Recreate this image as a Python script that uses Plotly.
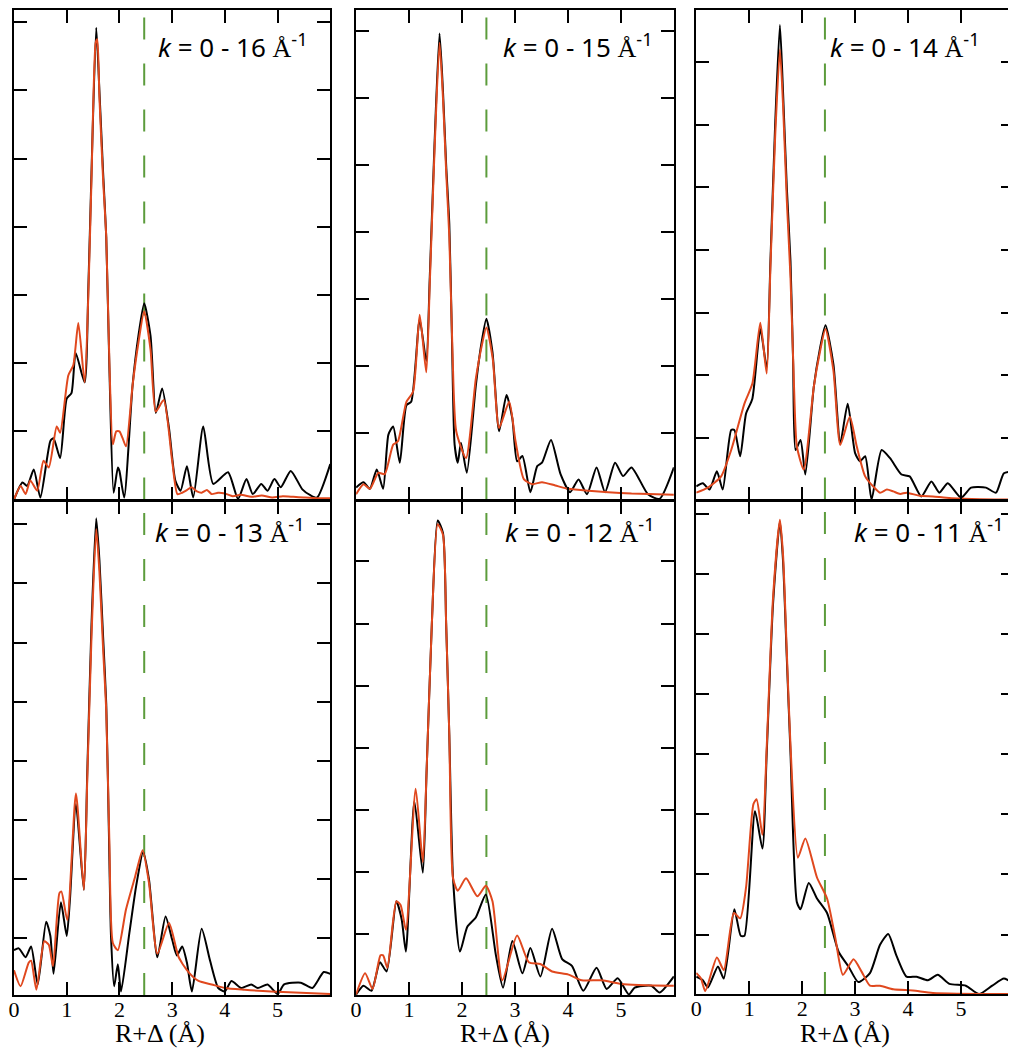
import plotly.graph_objects as go
from plotly.subplots import make_subplots

# k-range labels for the six panels
k_max = [16, 15, 14, 13, 12, 11]

# marker line position (R+delta, Angstrom) for each panel
r_mark = [2.47, 2.46, 2.43, 2.47, 2.46, 2.43]

# |chi(R)| in tick units, black = data, orange = fit
r_exp_16 = [0, 0.16, 0.25, 0.375, 0.5, 0.69, 0.75, 0.875, 1.0, 1.09, 1.17, 1.34, 1.41, 1.47, 1.56, 1.62, 1.69, 1.75, 1.81, 1.89, 1.97, 2.0, 2.09, 2.25, 2.36, 2.47, 2.59, 2.69, 2.81, 2.94, 3.06, 3.16, 3.28, 3.4, 3.59, 3.78, 4.06, 4.25, 4.41, 4.53, 4.69, 4.81, 4.94, 5.06, 5.25, 5.47, 5.63, 5.75, 6.0]
chi_exp_16 = [0, 0.25, 0.2, 0.44, 0.03, 0.86, 0.9, 0.61, 1.48, 1.56, 2.15, 1.72, 3.1, 4.8, 6.92, 6.0, 4.8, 3.85, 1.92, 0.1, 0.47, 0.42, 0.03, 1.68, 2.4, 2.88, 2.4, 1.27, 1.63, 1.05, 0.28, 0.13, 0.49, 0.03, 1.07, 0.23, 0.4, 0.01, 0.3, 0.08, 0.23, 0.13, 0.3, 0.18, 0.42, 0.15, 0.06, 0.03, 0.52]
r_fit_16 = [0, 0.125, 0.22, 0.31, 0.44, 0.56, 0.66, 0.81, 0.875, 1.03, 1.125, 1.22, 1.34, 1.41, 1.47, 1.55, 1.58, 1.62, 1.69, 1.75, 1.81, 1.875, 1.94, 2.0, 2.06, 2.125, 2.25, 2.36, 2.47, 2.59, 2.69, 2.84, 3.0, 3.1, 3.19, 3.28, 3.37, 3.47, 3.56, 3.66, 3.75, 3.87, 4.0, 4.15, 4.3, 4.5, 4.7, 4.9, 5.1, 5.3, 5.5, 5.75, 6.0]
chi_fit_16 = [0, 0.2, 0.08, 0.28, 0.13, 0.57, 0.47, 1.07, 0.98, 1.82, 1.97, 2.59, 1.72, 3.0, 4.7, 6.7, 6.75, 5.9, 4.7, 3.85, 2.0, 0.81, 1.0, 1.0, 0.9, 0.78, 1.68, 2.3, 2.76, 2.2, 1.29, 1.46, 0.57, 0.08, 0.1, 0.14, 0.18, 0.12, 0.1, 0.14, 0.08, 0.1, 0.09, 0.05, 0.07, 0.04, 0.06, 0.03, 0.05, 0.04, 0.03, 0.02, 0.02]

r_exp_15 = [0, 0.14, 0.26, 0.39, 0.51, 0.61, 0.7, 0.825, 0.95, 1.04, 1.2, 1.325, 1.39, 1.48, 1.575, 1.64, 1.7, 1.76, 1.81, 1.86, 1.92, 1.98, 2.09, 2.26, 2.36, 2.46, 2.575, 2.7, 2.84, 2.95, 3.04, 3.14, 3.29, 3.42, 3.51, 3.68, 3.86, 4.04, 4.2, 4.36, 4.54, 4.7, 4.89, 5.04, 5.2, 5.51, 5.73, 6.0]
chi_exp_15 = [0.18, 0.26, 0.16, 0.45, 0.16, 0.97, 1.09, 0.55, 1.41, 1.46, 2.69, 2.07, 3.3, 5.3, 6.96, 6.1, 5.0, 4.11, 2.4, 0.82, 0.55, 0.85, 0.4, 1.7, 2.3, 2.7, 2.2, 1.02, 1.56, 1.21, 0.57, 0.65, 0.11, 0.5, 0.55, 0.89, 0.38, 0.11, 0.3, 0.08, 0.48, 0.11, 0.55, 0.35, 0.48, 0.08, 0.01, 0.48]
r_fit_15 = [0, 0.14, 0.26, 0.42, 0.54, 0.7, 0.79, 0.95, 1.075, 1.2, 1.325, 1.39, 1.48, 1.575, 1.64, 1.7, 1.76, 1.82, 1.89, 2.075, 2.26, 2.36, 2.46, 2.58, 2.7, 2.89, 3.01, 3.17, 3.33, 3.51, 3.76, 4.01, 4.39, 4.76, 5.2, 6.0]
chi_fit_15 = [0.08, 0.23, 0.16, 0.4, 0.38, 0.82, 0.87, 1.46, 1.61, 2.76, 1.9, 3.2, 5.2, 6.82, 6.0, 4.9, 3.92, 2.2, 1.02, 0.62, 1.8, 2.25, 2.57, 2.1, 1.07, 1.46, 0.87, 0.3, 0.23, 0.26, 0.21, 0.16, 0.13, 0.11, 0.09, 0.07]

r_exp_14 = [0, 0.125, 0.25, 0.39, 0.5, 0.66, 0.72, 0.83, 0.94, 1.06, 1.21, 1.33, 1.4, 1.49, 1.58, 1.64, 1.71, 1.78, 1.83, 1.875, 1.97, 2.06, 2.22, 2.33, 2.44, 2.59, 2.72, 2.86, 3.0, 3.09, 3.19, 3.31, 3.5, 3.66, 3.875, 4.03, 4.25, 4.44, 4.59, 4.75, 5.0, 5.19, 5.47, 5.66, 5.81, 6.0]
chi_exp_14 = [0.23, 0.28, 0.18, 0.47, 0.18, 1.13, 1.13, 0.71, 1.39, 1.63, 2.74, 2.13, 3.8, 6.0, 7.59, 6.5, 5.0, 3.82, 2.2, 0.81, 0.97, 0.42, 1.82, 2.4, 2.8, 2.18, 0.92, 1.55, 0.76, 0.63, 0.71, 0.02, 0.81, 0.68, 0.42, 0.39, 0.07, 0.31, 0.13, 0.28, 0.05, 0.21, 0.21, 0.13, 0.44, 0.47]
r_fit_14 = [0, 0.22, 0.47, 0.66, 0.91, 1.06, 1.21, 1.33, 1.4, 1.49, 1.58, 1.64, 1.71, 1.78, 1.84, 1.9, 2.03, 2.22, 2.33, 2.44, 2.59, 2.72, 2.9, 3.03, 3.19, 3.34, 3.47, 3.6, 3.72, 3.85, 3.97, 4.22, 4.47, 4.72, 5.2, 6.0]
chi_fit_14 = [0.13, 0.21, 0.39, 0.81, 1.55, 1.87, 2.84, 2.03, 3.7, 5.8, 7.2, 6.3, 4.8, 3.56, 2.0, 0.87, 0.5, 1.82, 2.35, 2.74, 2.08, 0.89, 1.34, 0.87, 0.39, 0.23, 0.13, 0.18, 0.15, 0.11, 0.13, 0.08, 0.07, 0.05, 0.03, 0.02]

r_exp_13 = [0, 0.09, 0.22, 0.325, 0.45, 0.61, 0.69, 0.75, 0.89, 1.0, 1.06, 1.175, 1.325, 1.39, 1.47, 1.56, 1.62, 1.69, 1.75, 1.8, 1.84, 1.9, 1.97, 2.03, 2.19, 2.32, 2.45, 2.56, 2.72, 2.875, 3.0, 3.09, 3.19, 3.28, 3.375, 3.56, 3.72, 3.875, 4.0, 4.125, 4.31, 4.5, 4.625, 4.81, 5.0, 5.125, 5.44, 5.66, 5.875, 6.0]
chi_exp_13 = [0.8, 0.83, 0.68, 0.86, 0.22, 1.28, 1.04, 0.4, 1.61, 1.04, 1.64, 3.27, 1.82, 3.8, 6.3, 8.1, 7.4, 6.1, 4.96, 2.8, 1.04, 0.19, 0.56, 0.1, 1.1, 1.9, 2.46, 2.0, 0.68, 1.37, 0.98, 0.71, 0.86, 0.59, 0.1, 1.16, 0.62, 0.16, 0.1, 0.28, 0.16, 0.22, 0.16, 0.22, 0.06, 0.22, 0.25, 0.16, 0.43, 0.4]
r_fit_13 = [0, 0.125, 0.28, 0.325, 0.425, 0.575, 0.66, 0.74, 0.86, 0.9, 1.01, 1.175, 1.325, 1.39, 1.47, 1.56, 1.62, 1.69, 1.75, 1.81, 1.875, 1.97, 2.125, 2.3, 2.44, 2.56, 2.72, 2.94, 3.125, 3.31, 3.5, 3.75, 4.0, 4.375, 4.875, 6.0]
chi_fit_13 = [0.46, 0.19, 0.59, 0.62, 0.13, 0.95, 0.89, 0.53, 1.76, 1.79, 1.31, 3.45, 1.82, 3.7, 6.1, 7.92, 7.2, 5.9, 4.84, 2.6, 0.92, 0.8, 1.49, 2.05, 2.49, 1.94, 0.74, 1.26, 0.68, 0.43, 0.28, 0.22, 0.16, 0.13, 0.1, 0.06]

r_exp_12 = [0, 0.14, 0.29, 0.45, 0.575, 0.76, 0.86, 0.94, 1.1, 1.26, 1.33, 1.43, 1.54, 1.64, 1.7, 1.76, 1.83, 1.96, 2.1, 2.26, 2.45, 2.64, 2.775, 2.95, 3.14, 3.29, 3.48, 3.7, 3.89, 4.075, 4.29, 4.54, 4.73, 4.94, 5.15, 5.26, 5.575, 5.73, 6.0]
chi_exp_12 = [0.03, 0.17, 0.09, 0.55, 0.4, 1.53, 1.24, 0.72, 3.14, 1.99, 3.6, 6.0, 7.66, 7.46, 6.0, 4.2, 1.9, 0.72, 1.12, 1.27, 1.64, 0.66, 0.14, 0.89, 0.37, 0.78, 0.32, 1.09, 0.6, 0.49, 0.09, 0.46, 0.12, 0.29, 0.03, 0.14, 0.17, 0.06, 0.32]
r_fit_12 = [0, 0.17, 0.31, 0.46, 0.51, 0.59, 0.76, 0.84, 0.94, 1.125, 1.26, 1.33, 1.43, 1.54, 1.64, 1.7, 1.76, 1.83, 1.92, 2.075, 2.29, 2.45, 2.575, 2.76, 3.04, 3.26, 3.48, 3.7, 4.01, 4.26, 4.64, 5.01, 6.0]
chi_fit_12 = [0.03, 0.37, 0.12, 0.66, 0.66, 0.46, 1.53, 1.47, 1.07, 3.34, 2.16, 3.6, 6.0, 7.6, 7.43, 6.0, 4.2, 1.9, 1.7, 1.9, 1.61, 1.78, 1.53, 0.26, 0.98, 0.55, 0.52, 0.4, 0.35, 0.26, 0.26, 0.2, 0.17]

r_exp_11 = [0, 0.125, 0.22, 0.41, 0.52, 0.72, 0.84, 0.91, 1.11, 1.25, 1.33, 1.45, 1.58, 1.64, 1.71, 1.78, 1.9, 1.97, 2.125, 2.28, 2.47, 2.69, 2.875, 3.06, 3.28, 3.47, 3.625, 3.78, 3.97, 4.16, 4.375, 4.56, 4.78, 5.09, 5.34, 5.59, 5.81, 6.0]
chi_exp_11 = [0.3, 0.24, 0.12, 0.47, 0.27, 1.42, 0.98, 0.98, 3.05, 2.43, 4.0, 6.5, 7.87, 7.2, 5.6, 4.02, 1.54, 1.42, 1.86, 1.6, 1.36, 0.71, 0.47, 0.21, 0.36, 0.83, 1.01, 0.65, 0.3, 0.3, 0.24, 0.33, 0.18, 0.15, 0.01, 0.15, 0.27, 0.18]
r_fit_11 = [0, 0.09, 0.17, 0.39, 0.52, 0.71, 0.83, 0.94, 1.08, 1.14, 1.25, 1.33, 1.45, 1.58, 1.64, 1.71, 1.78, 1.92, 2.06, 2.28, 2.47, 2.625, 2.77, 2.97, 3.125, 3.28, 3.47, 3.72, 4.09, 4.47, 6.0]
chi_fit_11 = [0.36, 0.27, 0.06, 0.62, 0.41, 1.36, 1.27, 1.78, 3.17, 3.25, 2.66, 4.1, 6.6, 7.9, 7.3, 5.7, 4.14, 2.28, 2.6, 1.95, 1.6, 0.95, 0.33, 0.59, 0.38, 0.15, 0.15, 0.09, 0.07, 0.03, 0.01]

panels = [
    (r_exp_16, chi_exp_16, r_fit_16, chi_fit_16),
    (r_exp_15, chi_exp_15, r_fit_15, chi_fit_15),
    (r_exp_14, chi_exp_14, r_fit_14, chi_fit_14),
    (r_exp_13, chi_exp_13, r_fit_13, chi_fit_13),
    (r_exp_12, chi_exp_12, r_fit_12, chi_fit_12),
    (r_exp_11, chi_exp_11, r_fit_11, chi_fit_11),
]

# y ranges so the unlabeled ticks land where they do in the figure
y_ranges = [[0, 7.18], [0, 7.31], [0.02, 7.83], [0.04, 8.4], [0.02, 7.98], [0.01, 8.22]]

# the page puts the plot 8px in from the window corner, so work in window
# pixels and take the offset off
OFF = 8
W, H = 1016 - OFF, 1050 - OFF


def fx(px):
    return min(max((px - OFF) / W, 0), 1)


def fy(py):
    return min(max(1 - (py - OFF) / H, 0), 1)


# panel boxes in window pixels: left, right, top, bottom
boxes = [
    (6.5, 326.5, 3, 498.5), (352.5, 672.5, 3, 498.5), (695, 1015, 3, 498.5),
    (6.5, 326.5, 499.5, 995), (352.5, 672.5, 499.5, 995), (695, 1015, 499.5, 994),
]
label_right = [306, 653, 983, 303, 655, 1007]

BLACK = "#000000"
ORANGE = "#e0481e"
GREEN = "#5c9c3c"

fig = make_subplots(rows=2, cols=3)

for i, (rx, cx, rf, cf) in enumerate(panels):
    row, col = i // 3 + 1, i % 3 + 1
    fig.add_trace(go.Scatter(x=rx, y=cx, mode="lines",
                             line=dict(color=BLACK, width=2, shape="spline", smoothing=0.6),
                             showlegend=False), row=row, col=col)
    fig.add_trace(go.Scatter(x=rf, y=cf, mode="lines",
                             line=dict(color=ORANGE, width=2, shape="spline", smoothing=0.6),
                             showlegend=False), row=row, col=col)

    l, r, t, b = boxes[i]
    fig.update_xaxes(domain=[fx(l), fx(r)], range=[0, 6], tickvals=[0, 1, 2, 3, 4, 5],
                     ticks="inside", ticklen=13, tickwidth=2, tickcolor="black",
                     showline=True, linewidth=2, linecolor="black", mirror="ticks",
                     showgrid=False, zeroline=False, showticklabels=(row == 2),
                     ticklabelstandoff=-7,
                     tickfont=dict(family="Liberation Serif", size=22, color="black"),
                     row=row, col=col)
    fig.update_yaxes(domain=[fy(b), fy(t)], range=y_ranges[i], dtick=1, tick0=0,
                     ticks="inside", ticklen=13, tickwidth=2, tickcolor="black",
                     showline=True, linewidth=2, linecolor="black", mirror="ticks",
                     showgrid=False, zeroline=False, showticklabels=False,
                     row=row, col=col)

    xref = "x" if i == 0 else "x%d" % (i + 1)
    yref = "y" if i == 0 else "y%d" % (i + 1)
    fig.add_shape(type="line", xref=xref, yref=yref + " domain", x0=r_mark[i], x1=r_mark[i],
                  y0=0, y1=1, layer="below",
                  line=dict(color=GREEN, width=2, dash="22px,24px"))

    # k-range label
    label_y = 44 if row == 1 else 530
    fig.add_annotation(xref="paper", yref="paper", x=fx(label_right[i]), y=fy(label_y),
                       xanchor="right", yanchor="middle", showarrow=False,
                       text="<i>k</i> = 0 - %d <span style='font-family:Liberation Serif'>Å</span><sup>-1</sup>" % k_max[i],
                       font=dict(family="Noto Sans", size=26, color="black"))

# axis titles under the bottom row
for cx in [155, 502, 845]:
    fig.add_annotation(xref="paper", yref="paper", x=fx(cx), y=fy(1033),
                       xanchor="center", yanchor="middle", showarrow=False,
                       text="R+Δ (Å)",
                       font=dict(family="Liberation Serif", size=26, color="black"))

fig.update_layout(width=W, height=H, margin=dict(l=0, r=0, t=0, b=0),
                  paper_bgcolor="white", plot_bgcolor="white")

fig.write_html("out.html")
